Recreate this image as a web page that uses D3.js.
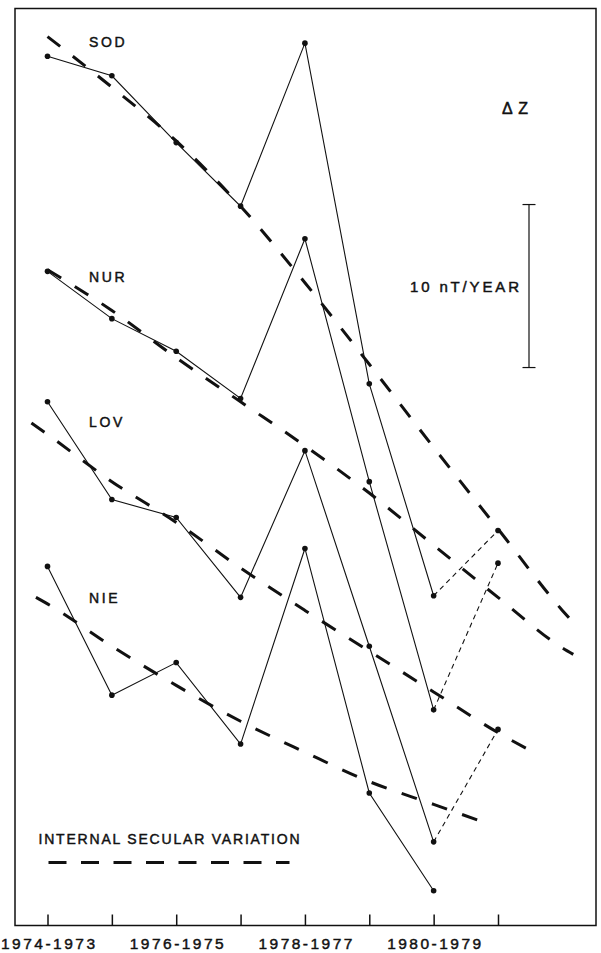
<!DOCTYPE html>
<html>
<head>
<meta charset="utf-8">
<script src="https://cdn.jsdelivr.net/npm/d3@7"></script>
<style>
  html, body { margin: 0; padding: 0; background: #fff; }
  svg { display: block; }
  text { font-family: "Liberation Sans", Arial, Helvetica, sans-serif; fill: #111; stroke: #111; stroke-width: 0.45px; }
</style>
</head>
<body>
<svg id="chart" width="601" height="953"></svg>
<script>
// ---- data (ΔZ, nT/year, stations vertically offset) ----
const periods = ["1974-1973","1975-1974","1976-1975","1977-1976","1978-1977","1979-1978","1980-1979","1981-1980"];
const tickLabels = ["1974-1973","","1976-1975","","1978-1977","","1980-1979",""];
const stations = ["SOD","NUR","LOV","NIE"];

const sod = [53.3, 52.1, 48.0, 44.1, 54.1, 33.2, 20.2, 24.2];
const nur = [40.1, 37.2, 35.2, 32.3, 42.1, 27.2, 13.2, 22.2];
const lov = [32.1, 26.1, 25.0, 20.1, 29.1, 17.1, 5.1, 12.0];
const nie = [22.0, 14.1, 16.1, 11.1, 23.1, 8.1, 2.1];

// internal secular variation (model curves)
const sodSecX = [0, 1, 2, 3, 4, 5, 6, 7, 8, 8.18];
const sodSec  = [54.5, 51.4, 48.1, 44.1, 39.4, 34.4, 29.3, 24.3, 19.3, 18.5];
const nurSecX = [0, 1, 2, 3, 4, 5, 6, 7, 8, 8.17];
const nurSec  = [40.2, 37.7, 34.8, 32.1, 29.4, 26.5, 23.3, 20.1, 17.0, 16.6];
const lovSecX = [-0.25, 0, 1, 2, 3, 4, 5, 6, 7, 7.55];
const lovSec  = [30.8, 30.1, 27.2, 24.7, 21.9, 19.3, 16.8, 14.3, 11.8, 10.6];
const nieSecX = [-0.18, 0, 1, 2, 3, 4, 5, 6, 6.71];
const nieSec  = [20.1, 19.7, 17.1, 14.7, 12.5, 10.6, 8.8, 7.4, 6.4];

const scaleBarValue = 10; // nT/YEAR

// ---- layout ----
const svg = d3.select("#chart");
const frame = {left: 15, top: 8.5, right: 596, bottom: 925.5};

const x = d3.scaleLinear().domain([0, 7]).range([47.5, 498]);
const y = d3.scaleLinear().domain([0, 56]).range([925, 925 - 56 * 16.3]);

const ink = "#111";

// frame
svg.append("rect")
  .attr("x", frame.left).attr("y", frame.top)
  .attr("width", frame.right - frame.left).attr("height", frame.bottom - frame.top)
  .attr("fill", "none").attr("stroke", ink).attr("stroke-width", 1.5);

// bottom axis with inward ticks
const axis = d3.axisBottom(x)
  .tickValues(d3.range(periods.length))
  .tickSizeInner(-11).tickSizeOuter(0).tickPadding(12)
  .tickFormat(i => tickLabels[i]);
const gx = svg.append("g").attr("transform", `translate(0,${frame.bottom})`).call(axis);
gx.select(".domain").remove();
gx.selectAll(".tick line").attr("stroke", ink).attr("stroke-width", 1.5);
gx.selectAll(".tick text")
  .attr("font-size", 15.5).attr("fill", ink)
  .attr("font-family", "'Liberation Sans', Arial, sans-serif")
  .each(function(d) { if (tickLabels[d]) d3.select(this).attr("textLength", 94).attr("lengthAdjust", "spacing"); });

// secular variation curves
const secLine = d3.line().x(d => x(d[0])).y(d => y(d[1])).curve(d3.curveMonotoneX);
const secSets = [[sodSecX, sodSec], [nurSecX, nurSec], [lovSecX, lovSec], [nieSecX, nieSec]];
secSets.forEach(([xs, vs]) => {
  svg.append("path")
    .attr("d", secLine(xs.map((xi, i) => [xi, vs[i]])))
    .attr("fill", "none").attr("stroke", ink)
    .attr("stroke-width", 3).attr("stroke-dasharray", "16,16");
});

// observed series
const series = [sod, nur, lov, nie];
const obsLine = d3.line().x(d => x(d[0])).y(d => y(d[1]));
series.forEach(vals => {
  const pts = vals.map((v, i) => [i, v]);
  const solid = pts.slice(0, 7);
  svg.append("path").attr("d", obsLine(solid))
    .attr("fill", "none").attr("stroke", ink).attr("stroke-width", 1.1);
  if (pts.length > 7) {
    svg.append("path").attr("d", obsLine(pts.slice(6, 8)))
      .attr("fill", "none").attr("stroke", ink).attr("stroke-width", 1.1)
      .attr("stroke-dasharray", "5,4");
  }
  svg.append("g").selectAll("circle").data(pts).join("circle")
    .attr("cx", d => x(d[0])).attr("cy", d => y(d[1])).attr("r", 2.8).attr("fill", ink);
});

// station labels
const labelBaselines = [46.7, 281.5, 427, 603];
stations.forEach((s, i) => {
  svg.append("text").attr("x", 89).attr("y", labelBaselines[i])
    .attr("font-size", 14).attr("letter-spacing", 2.6).text(s);
});

// ΔZ
svg.append("text").attr("x", 502).attr("y", 113.5).attr("font-size", 16)
  .attr("letter-spacing", 1).text("Δ Z");

// scale bar
const barX = 529, barTop = y(44.2), barBot = y(44.2 - scaleBarValue);
svg.append("line").attr("x1", barX).attr("x2", barX).attr("y1", barTop).attr("y2", barBot)
  .attr("stroke", ink).attr("stroke-width", 1.2);
[barTop, barBot].forEach(yy => svg.append("line")
  .attr("x1", barX - 6.5).attr("x2", barX + 6.5).attr("y1", yy).attr("y2", yy)
  .attr("stroke", ink).attr("stroke-width", 1.2));
svg.append("text").attr("x", 410).attr("y", 291.5).attr("font-size", 15)
  .attr("textLength", 109).attr("lengthAdjust", "spacing").text(scaleBarValue + " nT/YEAR");

// legend
svg.append("text").attr("x", 38.5).attr("y", 844).attr("font-size", 14)
  .attr("textLength", 261).attr("lengthAdjust", "spacing").text("INTERNAL SECULAR VARIATION");
svg.append("line").attr("x1", 48.5).attr("x2", 289.5).attr("y1", 862.5).attr("y2", 862.5)
  .attr("stroke", ink).attr("stroke-width", 3).attr("stroke-dasharray", "18,14.5");
</script>
</body>
</html>
